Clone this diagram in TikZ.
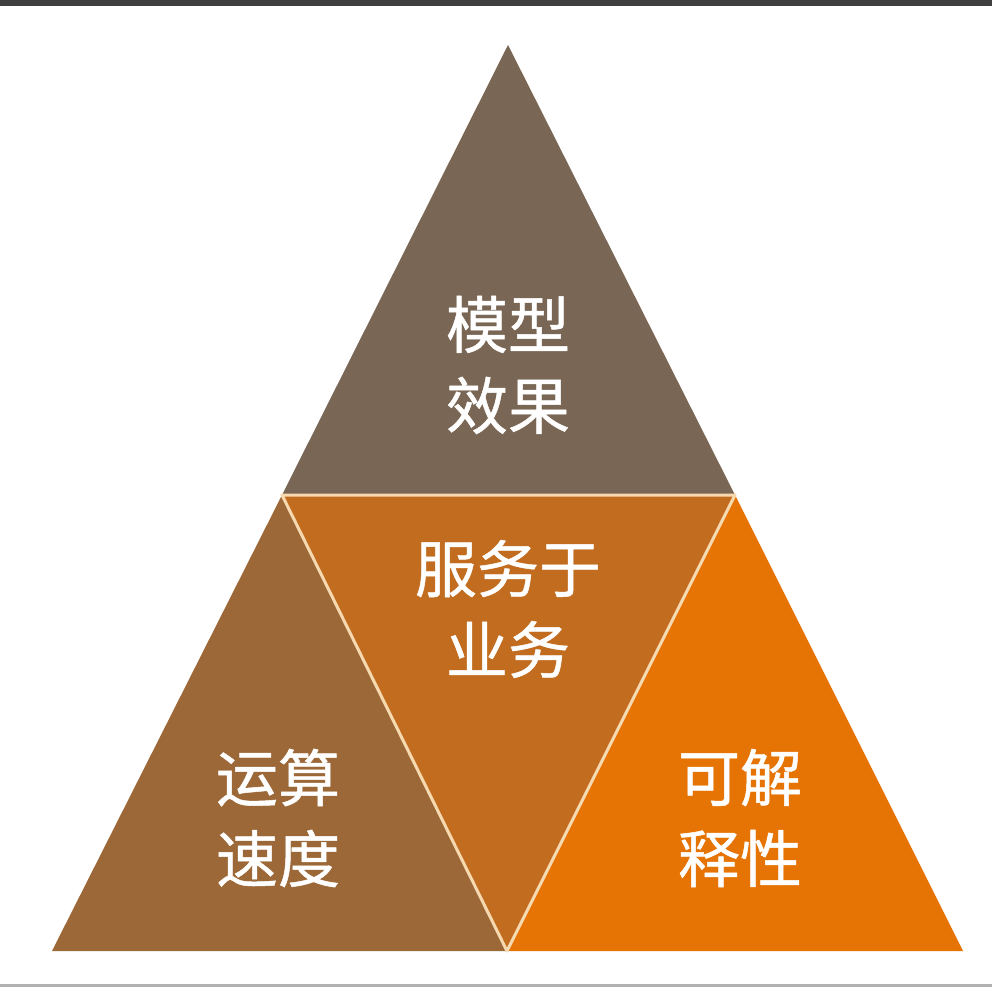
\documentclass[tikz,border=0pt]{standalone}
\usepackage{fontspec}
\setmainfont{Noto Sans CJK SC}[FakeBold=0.8]
\usetikzlibrary{positioning}
\definecolor{topc}{HTML}{7A6654}
\definecolor{midc}{HTML}{C26C20}
\definecolor{leftc}{HTML}{9C6838}
\definecolor{rightc}{HTML}{E67404}
\definecolor{sepc}{HTML}{F7D9B0}

\begin{document}
\begin{tikzpicture}[x=1pt, y=-1pt, line join=round]
        \tikzset{piece/.style={draw=sepc, line width=3pt},
                 lbl/.style={text=white, align=center, font=\fontsize{62}{81}\selectfont}}
        \useasboundingbox (0,0) rectangle (992,987);
        \fill[white] (0,0) rectangle (992,987);
        \fill[black!75] (0,0) rectangle (992,6);
        \fill[black!30] (0,984) rectangle (992,987);
        % corners of the pyramid
        \coordinate (T) at (508,45);
        \coordinate (L) at (52,951);
        \coordinate (R) at (963,951);
        \coordinate (ML) at (282,495);
        \coordinate (MR) at (735,495);
        \coordinate (B) at (507,951);
        \fill[leftc] (ML) -- (B) -- (L) -- cycle;
        \fill[rightc] (MR) -- (R) -- (B) -- cycle;
        \fill[midc] (ML) -- (MR) -- (B) -- cycle;
        \fill[topc] (T) -- (MR) -- (ML) -- cycle;
        \draw[piece] (ML) -- (MR) -- (B) -- cycle;
        \node[lbl]    (model)   at (508,365)   {模型\\效果};
        \node[lbl]    (serve)   at (508,609)   {服务于\\业务};
        \node[lbl]    (speed)   at (278,818)   {运算\\速度};
        \node[lbl]    (explain) at (740,818)   {可解\\释性};
      \end{tikzpicture}
\end{document}
